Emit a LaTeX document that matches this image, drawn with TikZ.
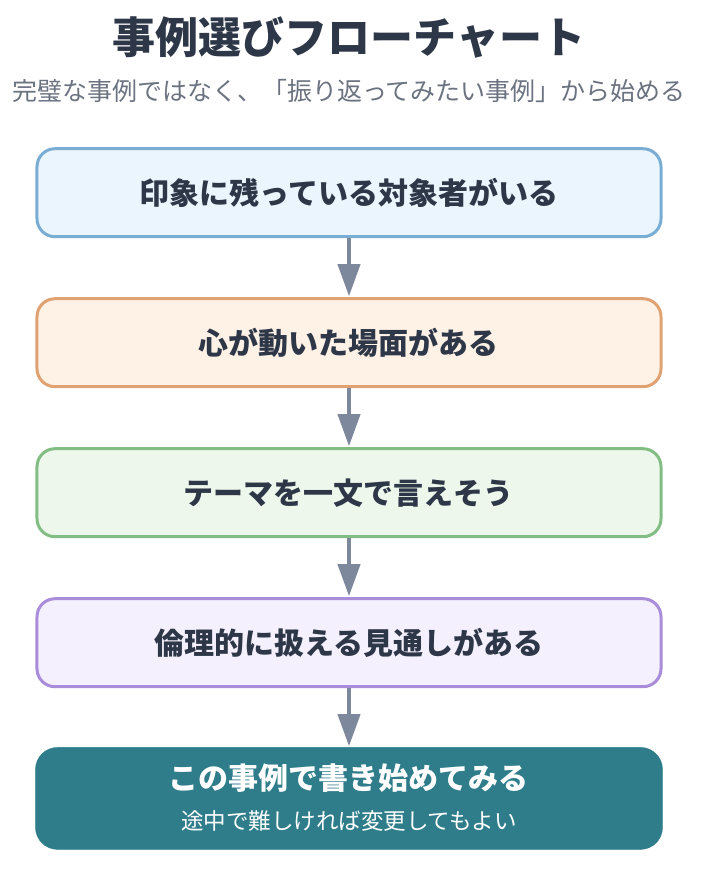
\documentclass[tikz,border=0pt]{standalone}
\usepackage{fontspec}
\setmainfont{Noto Sans CJK JP}
\usepackage{tikz}
\usetikzlibrary{matrix,arrows.meta}

\definecolor{ink}{HTML}{2D3748}
\definecolor{subgray}{HTML}{6B7280}
\definecolor{arrowgray}{HTML}{7D889C}
\definecolor{blueline}{HTML}{7AADD4}\definecolor{bluefill}{HTML}{EAF5FE}
\definecolor{orangeline}{HTML}{E0A272}\definecolor{orangefill}{HTML}{FEF1E6}
\definecolor{greenline}{HTML}{82BE84}\definecolor{greenfill}{HTML}{EDF7EC}
\definecolor{purpleline}{HTML}{A98CDA}\definecolor{purplefill}{HTML}{F4F0FD}
\definecolor{teal}{HTML}{2F7D8A}

\tikzset{
  stepbox/.style={draw, line width=3pt, rounded corners=18pt, minimum width=624pt,
    minimum height=88pt, text=ink, font=\fontsize{30}{34}\selectfont\bfseries},
  endbox/.style={fill=teal, draw=teal, rounded corners=22pt, minimum width=627pt,
    minimum height=102pt, text=white},
  flow/.style={line width=4pt, color=arrowgray, -{Triangle[width=22pt,length=32pt]}, shorten >=1pt}
}

\begin{document}
\begin{tikzpicture}[x=1pt,y=1pt]
			\useasboundingbox (0,0) rectangle (707,-872);
			\node (title) at (349,-38) [text=ink, font=\fontsize{43}{50}\selectfont\bfseries] {事例選びフローチャート};
			\node (subtitle) at (349,-91) [text=subgray, font=\fontsize{25}{30}\selectfont] {完璧な事例ではなく、「振り返ってみたい事例」から始める};
			\matrix (f) [matrix of nodes, row sep=59pt, inner sep=0pt, anchor=north, nodes={inner sep=4pt}] at (349,-147)
			{
				|[stepbox, draw=blueline, fill=bluefill]| 印象に残っている対象者がいる \\
				|[stepbox, draw=orangeline, fill=orangefill]| 心が動いた場面がある \\
				|[stepbox, draw=greenline, fill=greenfill]| テーマを一文で言えそう \\
				|[stepbox, draw=purpleline, fill=purplefill]| 倫理的に扱える見通しがある \\
				|[endbox]| {\begin{tabular}{@{}c@{}}{\fontsize{30}{36}\selectfont\bfseries この事例で書き始めてみる}\\[18pt]{\fontsize{22.5}{26}\selectfont 途中で難しければ変更してもよい}\end{tabular}} \\
			};
			\path[flow]
			(f-1-1) edge (f-2-1)
			(f-2-1) edge (f-3-1)
			(f-3-1) edge (f-4-1)
			(f-4-1) edge (f-5-1);
		\end{tikzpicture}
\end{document}
